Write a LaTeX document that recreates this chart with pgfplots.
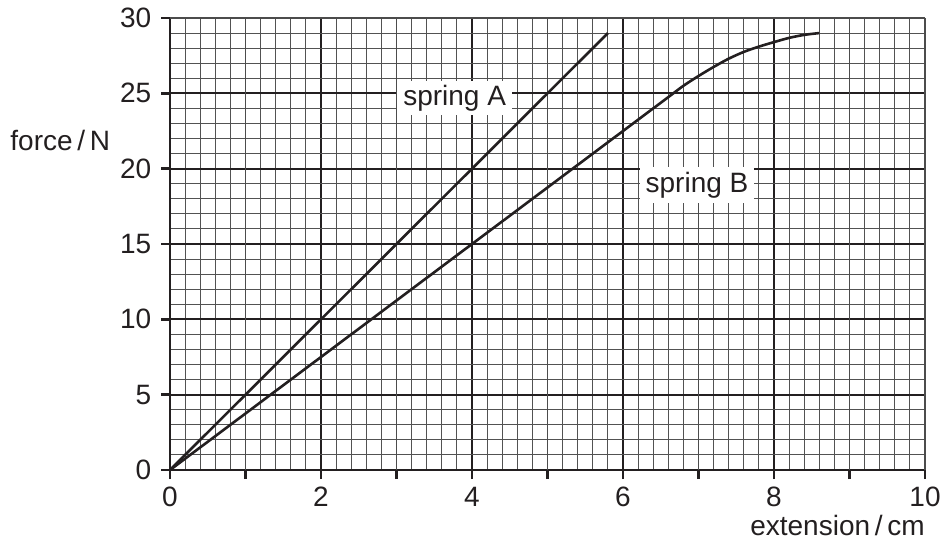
\documentclass[border=0pt]{standalone}
\usepackage{pgfplots}
\pgfplotsset{compat=1.18}
\usepackage{fontspec}
\setmainfont{Liberation Sans}
\definecolor{ink}{HTML}{231F20}
\begin{document}
\fontsize{14}{16}\selectfont
\begin{tikzpicture}
\useasboundingbox (0,0) rectangle (473pt,279pt);
\begin{axis}[
 at={(85pt,44pt)}, anchor=south west,
 scale only axis, width=377.5pt, height=226pt,
 xmin=0,xmax=10,ymin=0,ymax=30,
 axis x line*=bottom, axis y line*=left,
 axis line style={ink, line width=1.4pt, -},
 xtick={0,2,4,6,8}, ytick={0,5,...,25},
 minor xtick={0.2,0.4,...,9.8}, minor ytick={1,...,29},
 extra x ticks={1,3,5,7,9,10}, extra x tick labels={,,,,,10},
 extra y ticks={30}, extra y tick labels={30},
 grid=both,
 major grid style={ink, line width=0.9pt},
 minor grid style={black!68, line width=0.5pt},
 extra x tick style={major grid style={black!70, line width=0.55pt}},
 extra y tick style={major grid style={black!70, line width=0.55pt}},
 tick align=outside, major tick length=4.5pt, minor tick length=0pt,
 tick style={ink, line width=1.2pt},
 tick label style={font=\fontsize{14}{16}\selectfont, text=ink},
 xticklabel style={yshift=1pt},
 /pgf/number format/assume math mode=true,
 clip=false,
]
\addplot[ink, line width=1.3pt] coordinates {(0,0) (5.8,29)};
\addplot[ink, line width=1.3pt, smooth] coordinates {(0,0) (2,7.5) (4,15) (6,22.5) (6.6,24.75) (6.8,25.5) (7.0,26.15) (7.2,26.75) (7.4,27.3) (7.6,27.75) (7.8,28.1) (8.0,28.4) (8.2,28.68) (8.4,28.88) (8.6,29.0)};
\node[fill=white, text=ink, inner xsep=3pt, inner ysep=0pt, minimum height=17pt] at (axis cs:3.77,24.7) {spring A};
\node[fill=white, text=ink, inner xsep=3pt, inner ysep=0pt, minimum height=18pt] at (axis cs:6.98,18.9) {spring B};
\end{axis}
\node[anchor=west, inner sep=0pt, text=ink] at (5pt,209pt) {force\,/\,N};
\node[anchor=east, inner sep=0pt, text=ink] at (462.5pt,16.5pt) {extension\,/\,cm};
\end{tikzpicture}
\end{document}
